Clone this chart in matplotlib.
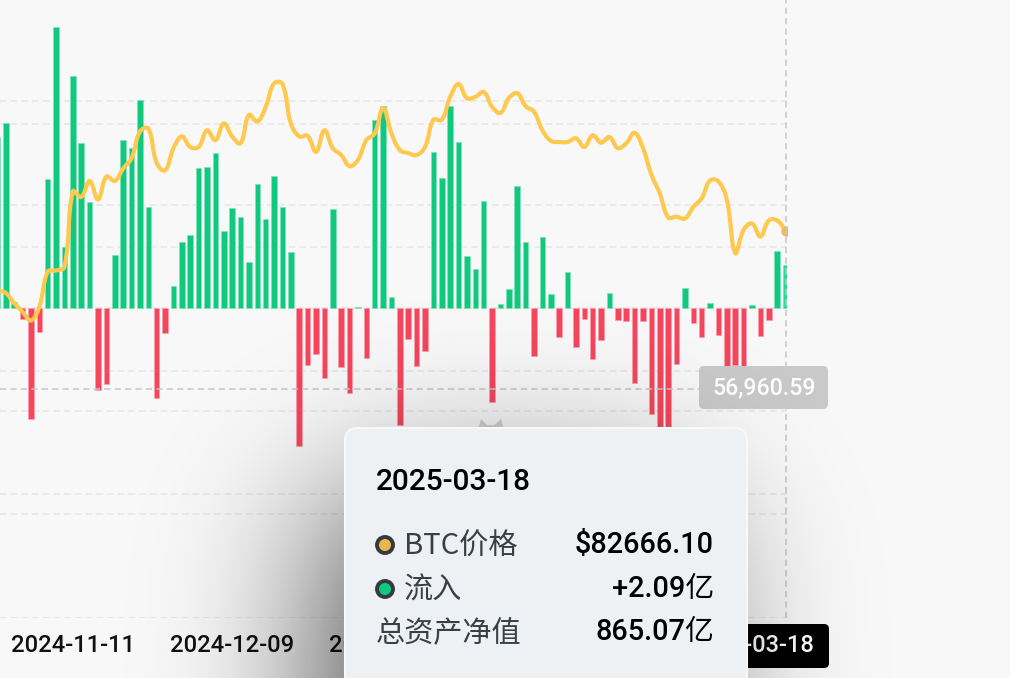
"""
BTC spot ETF daily net flow (bars) against the BTC price (line),
with the hover tooltip for 2025-03-18 drawn on top.
"""
from math import erf

import numpy as np
import pandas as pd
import matplotlib
matplotlib.use('Agg')
import matplotlib.pyplot as plt
from matplotlib.patches import FancyBboxPatch, Circle, Polygon, Ellipse, PathPatch
from matplotlib.path import Path
from matplotlib.transforms import blended_transform_factory

plt.rcParams['font.family'] = ['Noto Sans CJK SC', 'DejaVu Sans']
plt.rcParams['lines.scale_dashes'] = False
NUM_FONT = ['Roboto', 'Noto Sans CJK SC', 'DejaVu Sans']

# trading days (US market holidays removed)
holidays = ['2024-11-28', '2024-12-25', '2025-01-01', '2025-01-09',
            '2025-01-20', '2025-02-17']
dates = pd.bdate_range('2024-10-29', '2025-03-18', freq='C', holidays=holidays)

# daily net flow, 亿 USD
flows = [8.28, 8.96, 0.29, -0.55, -5.40, -1.16, 6.22, 13.60, 2.92, 11.20,
         8.00, 5.10, -3.99, -3.70, 2.55, 8.14, 7.75, 10.06, 4.86, -4.36,
         -1.21, 1.05, 3.17, 3.52, 6.75, 6.83, 7.48, 3.73, 4.83, 4.38,
         2.21, 5.98, 4.30, 6.38, 4.86, 2.71, -6.70, -2.77, -2.26, -3.39,
         4.76, -2.87, -4.15, 0.03, -2.42, 9.09, 9.77, 0.52, -5.70, -1.50,
         -2.84, -2.10, 7.54, 6.27, 9.77, 8.02, 2.49, 1.89, 5.17, -4.58,
         0.18, 0.91, 5.88, 3.18, -2.34, 3.41, 0.65, -1.40, 1.71, -1.89,
         -0.56, -2.50, -1.56, 0.70, -0.60, -0.64, -3.66, -0.63, -5.16, -9.38,
         -7.54, -2.74, 0.94, -0.73, -1.43, 0.21, -1.33, -4.09, -2.78, -3.71,
         0.13, -1.36, -0.60, 2.75, 2.09]

# BTC close, USD
btc_price = [73000, 72550, 70900, 69500, 68100, 70300, 76000, 76200, 76800, 89000,
             88100, 90700, 87700, 91400, 90700, 92700, 94400, 98700, 99200, 93600,
             92400, 96000, 97900, 96200, 96200, 98900, 97300, 100000, 97900, 96800,
             101400, 100300, 102700, 106500, 106400, 100000, 97900, 98000, 95400, 98900,
             96000, 94900, 93100, 94100, 97300, 98400, 102500, 98400, 95700, 95200,
             94900, 96200, 100600, 100600, 104300, 106400, 104100, 104300, 105100, 102700,
             101700, 104100, 104900, 102800, 101900, 98900, 97200, 97000, 97000, 97600,
             96200, 98100, 96900, 97800, 96000, 96800, 98500, 96000, 91700, 88700,
             84800, 84900, 84600, 86500, 87900, 90800, 90600, 87600, 79000, 82800,
             83800, 81700, 84300, 84300, 82666.10]

net_assets = 865.07        # 亿
cursor_price = 56960.59    # crosshair level on the price axis
flow_ticks = [-15, -10, -5, 0, 5, 10]
price_ticks = [40000, 60000, 80000, 100000]
label_start, label_step = 9, 19

GREEN = '#10C87E'
RED = '#F5465E'
GOLD = '#FFC84F'
BG = '#F8F8F8'
GRID = '#E6E6E6'
CROSS = '#C6C6C6'

W, H = 1010, 678
fig = plt.figure(figsize=(W / 100, H / 100), dpi=100, facecolor=BG)

ax = fig.add_axes([0, 60.5 / H, 787 / W, 619.5 / H], zorder=2)
ax.patch.set_visible(False)
ax2 = ax.twinx()
ax2.set_zorder(3)
ax2.patch.set_visible(False)

idx = np.arange(len(dates))
assert len(idx) == len(flows) == len(btc_price)

ax.set_xlim(0.31, 94.17)
ax.set_ylim(-15, 15)
ax2.set_ylim(20000, 120324)

# dashed gridlines of both scales, behind the bars
grid_kw = dict(color=GRID, lw=1.1, dashes=(4.8, 2.9), zorder=0)
for v in flow_ticks:
    ax.axhline(v, **grid_kw)
trans = blended_transform_factory(ax.transAxes, ax2.transData)
for p in price_ticks:
    ax.plot([0, 1], [p, p], transform=trans, **grid_kw)

# flow bars
bar_colors = [GREEN if v >= 0 else RED for v in flows]
edge_colors = ['#7FE2BA' if v >= 0 else '#F9A0AC' for v in flows]
bar_colors[-1] = '#22DA92'
ax.bar(idx, flows, width=0.66, color=bar_colors, edgecolor=edge_colors,
       linewidth=0.5, zorder=2)


# price line, smoothed the way the web chart does it
def smooth_path(xs, ys, sx, sy, k=0.4):
    pts = np.column_stack([xs, ys]).astype(float)
    scale = np.array([sx, sy])
    n = len(pts)
    cps = []
    for i in range(n):
        prev = pts[max(i - 1, 0)]
        nxt = pts[min(i + 1, n - 1)]
        v = (nxt - prev) * k
        d0 = np.hypot(*((pts[i] - prev) * scale))
        d1 = np.hypot(*((nxt - pts[i]) * scale))
        tot = d0 + d1 if d0 + d1 > 0 else 1
        cps.append((pts[i] - v * d0 / tot, pts[i] + v * d1 / tot))
    verts = [pts[0]]
    codes = [Path.MOVETO]
    for i in range(n - 1):
        verts += [cps[i][1], cps[i + 1][0], pts[i + 1]]
        codes += [Path.CURVE4] * 3
    return Path(verts, codes)


line_path = smooth_path(idx, btc_price, 8.385, 123.5 / 20000)
ax2.add_patch(PathPatch(line_path, fill=False, edgecolor=GOLD, lw=3.0,
                        capstyle='round', joinstyle='round', zorder=3))
ax2.plot(idx[-1], btc_price[-1], 'o', ms=6.5, color='#E9BC63', zorder=4)

# crosshair
ax2.axvline(idx[-1], color=CROSS, lw=1.1, dashes=(4.5, 3), zorder=5)
ax2.axhline(cursor_price, color=CROSS, lw=1.1, dashes=(4.5, 3), zorder=5)

ticks = idx[label_start::label_step]
ax.set_xticks(ticks)
ax.set_xticklabels([dates[i].strftime('%Y-%m-%d') for i in ticks],
                   fontfamily=NUM_FONT, fontweight='medium')
ax.tick_params(axis='x', length=0, pad=12, labelsize=17.1, labelcolor='#111111')
ax.set_yticks([])
ax2.set_yticks([])
for a in (ax, ax2):
    for s in a.spines.values():
        s.set_visible(False)

# overlay in pixel coordinates for labels and tooltip
ov = fig.add_axes([0, 0, 1, 1], zorder=10)
ov.set_xlim(0, W)
ov.set_ylim(H, 0)
ov.axis('off')
ov.patch.set_visible(False)

# crosshair value labels
ov.add_patch(FancyBboxPatch((699, 366), 129, 43, boxstyle='round,pad=0,rounding_size=5',
                            facecolor='#C9C9C9', edgecolor='none', zorder=2))
ov.text(764, 388, f'{cursor_price:,.2f}', color='white', fontsize=16.7,
        fontfamily=NUM_FONT, fontweight='medium', ha='center', va='center', zorder=3)
ov.add_patch(FancyBboxPatch((707, 624), 122, 44, boxstyle='round,pad=0,rounding_size=5',
                            facecolor='black', edgecolor='none', zorder=2))
ov.text(814, 646, dates[-1].strftime('%Y-%m-%d'), color='white', fontsize=17.1,
        fontfamily=NUM_FONT, fontweight='medium', ha='right', va='center', zorder=3)

# soft shadow under the tooltip
xs = np.arange(W) + 0.5
ys = np.arange(H) + 0.5
verf = np.vectorize(erf)
sig = 80 * np.sqrt(2)
fx = 0.5 * (verf((xs - 325) / sig) - verf((xs - 690) / sig))
fy = 0.5 * (verf((ys - 500) / sig) - verf((ys - 1100) / sig))
shade = np.zeros((H, W, 4))
shade[..., 3] = 0.68 * np.outer(fy, fx)
ov.imshow(shade, extent=(0, W, H, 0), zorder=4, interpolation='bilinear')

# little grey icon peeking above the tooltip
ov.add_patch(Ellipse((491, 433), 32, 16, facecolor='#B8B8B8', edgecolor='none', zorder=5))
ov.add_patch(Polygon([(478, 430), (481, 419), (488, 426)], closed=True,
                     facecolor='#B8B8B8', edgecolor='none', zorder=5))
ov.add_patch(Polygon([(494, 426), (501, 419), (504, 430)], closed=True,
                     facecolor='#B8B8B8', edgecolor='none', zorder=5))

# tooltip
ov.add_patch(FancyBboxPatch((345, 428), 402, 300, boxstyle='round,pad=0,rounding_size=13',
                            facecolor='#EEF1F4', edgecolor='#F7F8FA', lw=1.5, zorder=6))
ov.text(376, 482, dates[-1].strftime('%Y-%m-%d'), fontsize=21.5, color='black',
        fontfamily=NUM_FONT, fontweight='medium', ha='left', va='center', zorder=7)
rows = [('BTC价格', f'${btc_price[-1]:.2f}', '#E8B84C'),
        ('流入', f'{flows[-1]:+.2f}亿', GREEN),
        ('总资产净值', f'{net_assets:.2f}亿', None)]
row_y = [545, 589, 632]
for (name, value, dot), y in zip(rows, row_y):
    x0 = 376
    if dot:
        ov.add_patch(Circle((385, y), 8, facecolor=dot, edgecolor='#343A40',
                            lw=2.8, zorder=7))
        x0 = 404
    ov.text(x0, y + 2, name, fontsize=21.0, color='#3A3F45', ha='left', va='center', zorder=7)
    ov.text(714, y, value, fontsize=20.8, color='black', fontfamily=NUM_FONT,
            fontweight='medium', ha='right', va='center', zorder=7)

fig.savefig('out.png', dpi=100, facecolor=BG)
